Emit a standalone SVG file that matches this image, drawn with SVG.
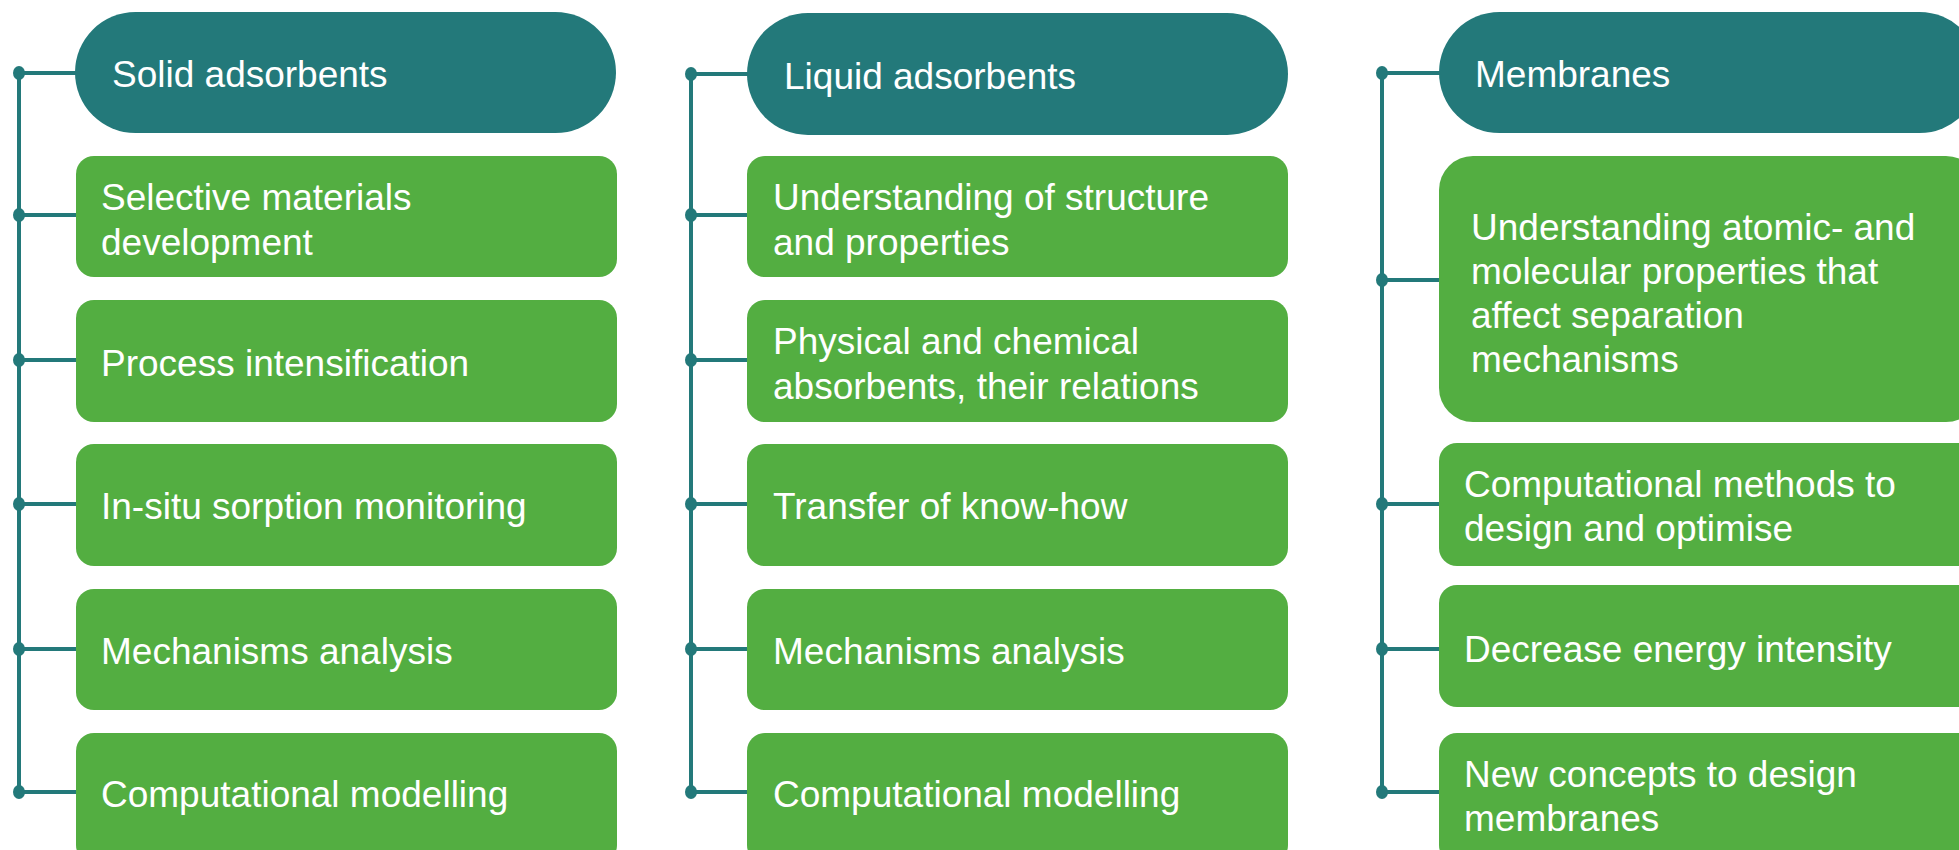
<svg xmlns="http://www.w3.org/2000/svg" width="1959" height="850" viewBox="0 0 1959 850">
  <style>
    .head { fill: #23797A; }
    .item { fill: #53AE41; }
    .wire { stroke: #23797A; stroke-width: 4; fill: none; }
    .dot { fill: #23797A; }
    text { font-family: "Liberation Sans", Arial, sans-serif; font-size: 37px; fill: #FFFFFF; }
  </style>
  <rect width="1959" height="850" fill="#FFFFFF"/>

  <!-- connectors: one spine per column with a branch to each box -->
  <g id="connectors">
    <path class="wire" d="M19 73 V792 M19 73 H76 M19 215 H76 M19 360 H76 M19 504 H76 M19 649 H76 M19 792 H76"/>
    <path class="wire" d="M691 74 V792 M691 74 H748 M691 215 H748 M691 360 H748 M691 504 H748 M691 649 H748 M691 792 H748"/>
    <path class="wire" d="M1382 73 V792 M1382 73 H1440 M1382 280 H1440 M1382 504 H1440 M1382 649 H1440 M1382 792 H1440"/>
    <g>
      <ellipse class="dot" cx="19" cy="73" rx="6" ry="7"/>
      <ellipse class="dot" cx="19" cy="215" rx="6" ry="7"/>
      <ellipse class="dot" cx="19" cy="360" rx="6" ry="7"/>
      <ellipse class="dot" cx="19" cy="504" rx="6" ry="7"/>
      <ellipse class="dot" cx="19" cy="649" rx="6" ry="7"/>
      <ellipse class="dot" cx="19" cy="792" rx="6" ry="7"/>
      <ellipse class="dot" cx="691" cy="74" rx="6" ry="7"/>
      <ellipse class="dot" cx="691" cy="215" rx="6" ry="7"/>
      <ellipse class="dot" cx="691" cy="360" rx="6" ry="7"/>
      <ellipse class="dot" cx="691" cy="504" rx="6" ry="7"/>
      <ellipse class="dot" cx="691" cy="649" rx="6" ry="7"/>
      <ellipse class="dot" cx="691" cy="792" rx="6" ry="7"/>
      <ellipse class="dot" cx="1382" cy="73" rx="6" ry="7"/>
      <ellipse class="dot" cx="1382" cy="280" rx="6" ry="7"/>
      <ellipse class="dot" cx="1382" cy="504" rx="6" ry="7"/>
      <ellipse class="dot" cx="1382" cy="649" rx="6" ry="7"/>
      <ellipse class="dot" cx="1382" cy="792" rx="6" ry="7"/>
    </g>
  </g>

  <!-- Column 1: solid adsorbents -->
  <g id="solid-adsorbents">
    <rect class="head" x="75" y="12" width="541" height="121" rx="60.5"/>
    <text x="112" y="87">Solid adsorbents</text>
  </g>
  <g id="solid-selective">
    <rect class="item" x="76" y="156" width="541" height="121" rx="18"/>
    <text x="101" y="210">Selective materials</text>
    <text x="101" y="255">development</text>
  </g>
  <g id="solid-intensification">
    <rect class="item" x="76" y="300" width="541" height="122" rx="18"/>
    <text x="101" y="376">Process intensification</text>
  </g>
  <g id="solid-monitoring">
    <rect class="item" x="76" y="444" width="541" height="122" rx="18"/>
    <text x="101" y="519">In-situ sorption monitoring</text>
  </g>
  <g id="solid-mechanisms">
    <rect class="item" x="76" y="589" width="541" height="121" rx="18"/>
    <text x="101" y="664">Mechanisms analysis</text>
  </g>
  <g id="solid-modelling">
    <rect class="item" x="76" y="733" width="541" height="130" rx="18"/>
    <text x="101" y="807">Computational modelling</text>
  </g>

  <!-- Column 2: liquid adsorbents -->
  <g id="liquid-adsorbents">
    <rect class="head" x="747" y="13" width="541" height="122" rx="61"/>
    <text x="784" y="89">Liquid adsorbents</text>
  </g>
  <g id="liquid-structure">
    <rect class="item" x="747" y="156" width="541" height="121" rx="18"/>
    <text x="773" y="210">Understanding of structure</text>
    <text x="773" y="255">and properties</text>
  </g>
  <g id="liquid-absorbents">
    <rect class="item" x="747" y="300" width="541" height="122" rx="18"/>
    <text x="773" y="354">Physical and chemical</text>
    <text x="773" y="399">absorbents, their relations</text>
  </g>
  <g id="liquid-knowhow">
    <rect class="item" x="747" y="444" width="541" height="122" rx="18"/>
    <text x="773" y="519">Transfer of know-how</text>
  </g>
  <g id="liquid-mechanisms">
    <rect class="item" x="747" y="589" width="541" height="121" rx="18"/>
    <text x="773" y="664">Mechanisms analysis</text>
  </g>
  <g id="liquid-modelling">
    <rect class="item" x="747" y="733" width="541" height="130" rx="18"/>
    <text x="773" y="807">Computational modelling</text>
  </g>

  <!-- Column 3: membranes -->
  <g id="membranes">
    <rect class="head" x="1439" y="12" width="541" height="121" rx="60.5"/>
    <text x="1475" y="87">Membranes</text>
  </g>
  <g id="membranes-properties">
    <rect class="item" x="1439" y="156" width="541" height="266" rx="34"/>
    <text x="1471" y="240">Understanding atomic- and</text>
    <text x="1471" y="284">molecular properties that</text>
    <text x="1471" y="328">affect separation</text>
    <text x="1471" y="372">mechanisms</text>
  </g>
  <g id="membranes-computational">
    <rect class="item" x="1439" y="443" width="541" height="123" rx="18"/>
    <text x="1464" y="497">Computational methods to</text>
    <text x="1464" y="541">design and optimise</text>
  </g>
  <g id="membranes-energy">
    <rect class="item" x="1439" y="585" width="541" height="122" rx="18"/>
    <text x="1464" y="662">Decrease energy intensity</text>
  </g>
  <g id="membranes-concepts">
    <rect class="item" x="1439" y="733" width="541" height="130" rx="18"/>
    <text x="1464" y="787">New concepts to design</text>
    <text x="1464" y="831">membranes</text>
  </g>
</svg>
